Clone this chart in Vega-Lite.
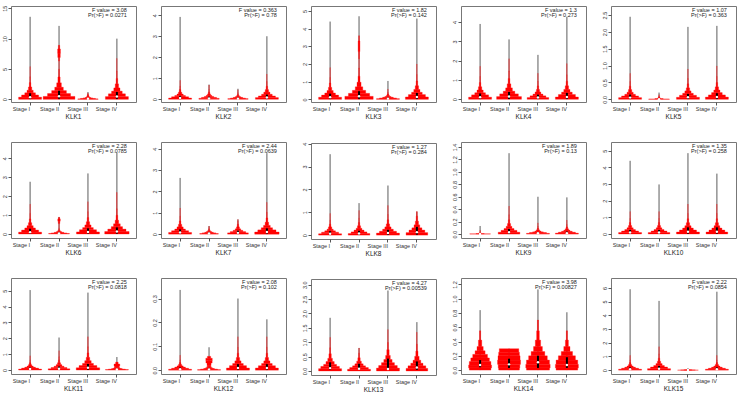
{
"$schema":"https://vega.github.io/schema/vega-lite/v6.json",
"padding":{"left":1,"top":4,"right":0,"bottom":0},
"data":{"values":[
{"g":"KLK1","lo":-0.44,"hi":15.38,"t":"F value = 3.08|Pr(>F) = 0.0271"},
{"g":"KLK2","lo":-0.13,"hi":4.44,"t":"F value = 0.363|Pr(>F) = 0.78"},
{"g":"KLK3","lo":-0.15,"hi":5.28,"t":"F value = 1.82|Pr(>F) = 0.142"},
{"g":"KLK4","lo":-0.14,"hi":4.83,"t":"F value = 1.3|Pr(>F) = 0.273"},
{"g":"KLK5","lo":-0.08,"hi":2.77,"t":"F value = 1.07|Pr(>F) = 0.363"},
{"g":"KLK6","lo":-0.21,"hi":4.86,"t":"F value = 2.28|Pr(>F) = 0.0785"},
{"g":"KLK7","lo":-0.18,"hi":4.31,"t":"F value = 2.44|Pr(>F) = 0.0639"},
{"g":"KLK8","lo":-0.17,"hi":4.03,"t":"F value = 1.27|Pr(>F) = 0.284"},
{"g":"KLK9","lo":-0.063,"hi":1.48,"t":"F value = 1.89|Pr(>F) = 0.13"},
{"g":"KLK10","lo":-0.24,"hi":5.53,"t":"F value = 1.35|Pr(>F) = 0.258"},
{"g":"KLK11","lo":-0.25,"hi":5.8,"t":"F value = 2.25|Pr(>F) = 0.0818"},
{"g":"KLK12","lo":-0.016,"hi":0.386,"t":"F value = 2.08|Pr(>F) = 0.102"},
{"g":"KLK13","lo":-0.14,"hi":3.2,"t":"F value = 4.27|Pr(>F) = 0.00539"},
{"g":"KLK14","lo":-0.055,"hi":1.29,"t":"F value = 3.98|Pr(>F) = 0.00827"},
{"g":"KLK15","lo":-0.28,"hi":6.72,"t":"F value = 2.22|Pr(>F) = 0.0854"},

{"g":"KLK1","s":"Stage I","mx":13.6,"q1":0.06,"q3":1.0,"m":0.35},
{"g":"KLK1","s":"Stage II","mx":12.1,"q1":0.1,"q3":1.4,"m":0.5},
{"g":"KLK1","s":"Stage III","mx":1.2,"q1":0.01,"q3":0.2,"m":0.08},
{"g":"KLK1","s":"Stage IV","mx":10.0,"q1":0.08,"q3":1.2,"m":0.45},
{"g":"KLK2","s":"Stage I","mx":3.92,"q1":0.01,"q3":0.16,"m":0.06},
{"g":"KLK2","s":"Stage II","mx":0.7,"q1":0.01,"q3":0.12,"m":0.04},
{"g":"KLK2","s":"Stage III","mx":0.5,"q1":0.005,"q3":0.08,"m":0.03},
{"g":"KLK2","s":"Stage IV","mx":3.0,"q1":0.015,"q3":0.22,"m":0.08},
{"g":"KLK3","s":"Stage I","mx":4.4,"q1":0.02,"q3":0.32,"m":0.12},
{"g":"KLK3","s":"Stage II","mx":4.7,"q1":0.03,"q3":0.46,"m":0.17},
{"g":"KLK3","s":"Stage III","mx":1.04,"q1":0.006,"q3":0.1,"m":0.04},
{"g":"KLK3","s":"Stage IV","mx":4.57,"q1":0.02,"q3":0.36,"m":0.13},
{"g":"KLK4","s":"Stage I","mx":3.9,"q1":0.02,"q3":0.3,"m":0.11},
{"g":"KLK4","s":"Stage II","mx":3.1,"q1":0.02,"q3":0.38,"m":0.14},
{"g":"KLK4","s":"Stage III","mx":2.3,"q1":0.015,"q3":0.24,"m":0.09},
{"g":"KLK4","s":"Stage IV","mx":4.26,"q1":0.02,"q3":0.33,"m":0.12},
{"g":"KLK5","s":"Stage I","mx":2.45,"q1":0.01,"q3":0.14,"m":0.05},
{"g":"KLK5","s":"Stage II","mx":0.2,"q1":0,"q3":0.02,"m":0.005},
{"g":"KLK5","s":"Stage III","mx":2.15,"q1":0.01,"q3":0.16,"m":0.06},
{"g":"KLK5","s":"Stage IV","mx":2.18,"q1":0.01,"q3":0.18,"m":0.07},
{"g":"KLK6","s":"Stage I","mx":2.76,"q1":0.02,"q3":0.28,"m":0.1},
{"g":"KLK6","s":"Stage II","mx":0.9,"q1":0.005,"q3":0.08,"m":0.03},
{"g":"KLK6","s":"Stage III","mx":3.2,"q1":0.02,"q3":0.3,"m":0.11},
{"g":"KLK6","s":"Stage IV","mx":4.28,"q1":0.02,"q3":0.35,"m":0.13},
{"g":"KLK7","s":"Stage I","mx":2.63,"q1":0.01,"q3":0.22,"m":0.08},
{"g":"KLK7","s":"Stage II","mx":0.38,"q1":0.005,"q3":0.08,"m":0.03},
{"g":"KLK7","s":"Stage III","mx":0.69,"q1":0.01,"q3":0.16,"m":0.06},
{"g":"KLK7","s":"Stage IV","mx":3.79,"q1":0.02,"q3":0.27,"m":0.1},
{"g":"KLK8","s":"Stage I","mx":3.54,"q1":0.01,"q3":0.17,"m":0.06},
{"g":"KLK8","s":"Stage II","mx":1.4,"q1":0.01,"q3":0.19,"m":0.07},
{"g":"KLK8","s":"Stage III","mx":2.17,"q1":0.015,"q3":0.23,"m":0.09},
{"g":"KLK8","s":"Stage IV","mx":1.03,"q1":0.02,"q3":0.36,"m":0.13},
{"g":"KLK9","s":"Stage I","mx":0.13,"q1":0,"q3":0.003,"m":0.001},
{"g":"KLK9","s":"Stage II","mx":1.3,"q1":0.005,"q3":0.08,"m":0.03},
{"g":"KLK9","s":"Stage III","mx":0.6,"q1":0.002,"q3":0.032,"m":0.012},
{"g":"KLK9","s":"Stage IV","mx":0.59,"q1":0.0025,"q3":0.04,"m":0.015},
{"g":"KLK10","s":"Stage I","mx":4.4,"q1":0.015,"q3":0.24,"m":0.09},
{"g":"KLK10","s":"Stage II","mx":2.98,"q1":0.015,"q3":0.24,"m":0.09},
{"g":"KLK10","s":"Stage III","mx":4.86,"q1":0.02,"q3":0.4,"m":0.14},
{"g":"KLK10","s":"Stage IV","mx":3.63,"q1":0.02,"q3":0.4,"m":0.14},
{"g":"KLK11","s":"Stage I","mx":5.04,"q1":0.01,"q3":0.16,"m":0.06},
{"g":"KLK11","s":"Stage II","mx":2.05,"q1":0.015,"q3":0.22,"m":0.08},
{"g":"KLK11","s":"Stage III","mx":4.88,"q1":0.02,"q3":0.38,"m":0.14},
{"g":"KLK11","s":"Stage IV","mx":0.82,"q1":0.005,"q3":0.08,"m":0.03},
{"g":"KLK12","s":"Stage I","mx":0.336,"q1":0.001,"q3":0.011,"m":0.004},
{"g":"KLK12","s":"Stage II","mx":0.096,"q1":0,"q3":0.007,"m":0.003},
{"g":"KLK12","s":"Stage III","mx":0.3,"q1":0.002,"q3":0.025,"m":0.009},
{"g":"KLK12","s":"Stage IV","mx":0.213,"q1":0.002,"q3":0.025,"m":0.009},
{"g":"KLK13","s":"Stage I","mx":1.85,"q1":0.05,"q3":0.3,"m":0.1},
{"g":"KLK13","s":"Stage II","mx":0.8,"q1":0.04,"q3":0.25,"m":0.08},
{"g":"KLK13","s":"Stage III","mx":2.8,"q1":0.04,"q3":0.43,"m":0.07},
{"g":"KLK13","s":"Stage IV","mx":1.7,"q1":0.04,"q3":0.33,"m":0.12},
{"g":"KLK14","s":"Stage I","mx":0.84,"q1":0.04,"q3":0.14,"m":0.07},
{"g":"KLK14","s":"Stage II","mx":0.3,"q1":0.03,"q3":0.16,"m":0.08},
{"g":"KLK14","s":"Stage III","mx":1.13,"q1":0.03,"q3":0.2,"m":0.11},
{"g":"KLK14","s":"Stage IV","mx":0.81,"q1":0.03,"q3":0.18,"m":0.07},
{"g":"KLK15","s":"Stage I","mx":5.9,"q1":0.01,"q3":0.2,"m":0.07},
{"g":"KLK15","s":"Stage II","mx":5.05,"q1":0.02,"q3":0.3,"m":0.11},
{"g":"KLK15","s":"Stage III","mx":0.15,"q1":0,"q3":0.02,"m":0.005},
{"g":"KLK15","s":"Stage IV","mx":5.72,"q1":0.01,"q3":0.2,"m":0.07},

{"g":"KLK1","s":"Stage I","a":0,"b":0.36,"d":1},{"g":"KLK1","s":"Stage I","a":0.36,"b":0.72,"d":0.86},{"g":"KLK1","s":"Stage I","a":0.72,"b":1.08,"d":0.68},{"g":"KLK1","s":"Stage I","a":1.08,"b":1.5,"d":0.52},{"g":"KLK1","s":"Stage I","a":1.5,"b":2.04,"d":0.38},{"g":"KLK1","s":"Stage I","a":2.04,"b":2.76,"d":0.26},{"g":"KLK1","s":"Stage I","a":2.76,"b":3.72,"d":0.16},{"g":"KLK1","s":"Stage I","a":3.72,"b":5.4,"d":0.08},
{"g":"KLK1","s":"Stage II","a":0,"b":0.48,"d":1.175},{"g":"KLK1","s":"Stage II","a":0.48,"b":0.96,"d":1.0},{"g":"KLK1","s":"Stage II","a":0.96,"b":1.44,"d":0.8},{"g":"KLK1","s":"Stage II","a":1.44,"b":2.0,"d":0.61},{"g":"KLK1","s":"Stage II","a":2.0,"b":2.72,"d":0.45},{"g":"KLK1","s":"Stage II","a":2.72,"b":3.68,"d":0.31},{"g":"KLK1","s":"Stage II","a":3.68,"b":4.96,"d":0.19},{"g":"KLK1","s":"Stage II","a":4.96,"b":6.3,"d":0.06},{"g":"KLK1","s":"Stage II","a":6.3,"b":6.9,"d":0.22},{"g":"KLK1","s":"Stage II","a":6.9,"b":7.6,"d":0.33},{"g":"KLK1","s":"Stage II","a":7.6,"b":8.3,"d":0.35},{"g":"KLK1","s":"Stage II","a":8.3,"b":8.9,"d":0.24},
{"g":"KLK1","s":"Stage III","a":0,"b":0.08,"d":0.94},{"g":"KLK1","s":"Stage III","a":0.08,"b":0.15,"d":0.81},{"g":"KLK1","s":"Stage III","a":0.15,"b":0.23,"d":0.64},{"g":"KLK1","s":"Stage III","a":0.23,"b":0.31,"d":0.49},{"g":"KLK1","s":"Stage III","a":0.31,"b":0.43,"d":0.36},{"g":"KLK1","s":"Stage III","a":0.43,"b":0.6,"d":0.3},{"g":"KLK1","s":"Stage III","a":0.6,"b":0.8,"d":0.22},{"g":"KLK1","s":"Stage III","a":0.8,"b":1.05,"d":0.1},
{"g":"KLK1","s":"Stage IV","a":0,"b":0.45,"d":1},{"g":"KLK1","s":"Stage IV","a":0.45,"b":0.9,"d":0.86},{"g":"KLK1","s":"Stage IV","a":0.9,"b":1.35,"d":0.68},{"g":"KLK1","s":"Stage IV","a":1.35,"b":1.88,"d":0.52},{"g":"KLK1","s":"Stage IV","a":1.88,"b":2.55,"d":0.38},{"g":"KLK1","s":"Stage IV","a":2.55,"b":3.45,"d":0.26},{"g":"KLK1","s":"Stage IV","a":3.45,"b":4.65,"d":0.16},{"g":"KLK1","s":"Stage IV","a":4.65,"b":6.75,"d":0.08},

{"g":"KLK2","s":"Stage I","a":0,"b":0.06,"d":1},{"g":"KLK2","s":"Stage I","a":0.06,"b":0.12,"d":0.86},{"g":"KLK2","s":"Stage I","a":0.12,"b":0.18,"d":0.68},{"g":"KLK2","s":"Stage I","a":0.18,"b":0.25,"d":0.52},{"g":"KLK2","s":"Stage I","a":0.25,"b":0.34,"d":0.38},{"g":"KLK2","s":"Stage I","a":0.34,"b":0.46,"d":0.26},{"g":"KLK2","s":"Stage I","a":0.46,"b":0.62,"d":0.16},{"g":"KLK2","s":"Stage I","a":0.62,"b":0.9,"d":0.08},
{"g":"KLK2","s":"Stage II","a":0,"b":0.045,"d":0.94},{"g":"KLK2","s":"Stage II","a":0.045,"b":0.09,"d":0.81},{"g":"KLK2","s":"Stage II","a":0.09,"b":0.135,"d":0.64},{"g":"KLK2","s":"Stage II","a":0.135,"b":0.19,"d":0.49},{"g":"KLK2","s":"Stage II","a":0.19,"b":0.255,"d":0.36},{"g":"KLK2","s":"Stage II","a":0.255,"b":0.345,"d":0.24},{"g":"KLK2","s":"Stage II","a":0.345,"b":0.465,"d":0.15},{"g":"KLK2","s":"Stage II","a":0.465,"b":0.68,"d":0.08},
{"g":"KLK2","s":"Stage III","a":0,"b":0.03,"d":0.94},{"g":"KLK2","s":"Stage III","a":0.03,"b":0.06,"d":0.81},{"g":"KLK2","s":"Stage III","a":0.06,"b":0.09,"d":0.64},{"g":"KLK2","s":"Stage III","a":0.09,"b":0.125,"d":0.49},{"g":"KLK2","s":"Stage III","a":0.125,"b":0.17,"d":0.36},{"g":"KLK2","s":"Stage III","a":0.17,"b":0.23,"d":0.24},{"g":"KLK2","s":"Stage III","a":0.23,"b":0.31,"d":0.15},{"g":"KLK2","s":"Stage III","a":0.31,"b":0.45,"d":0.08},
{"g":"KLK2","s":"Stage IV","a":0,"b":0.08,"d":1},{"g":"KLK2","s":"Stage IV","a":0.08,"b":0.16,"d":0.86},{"g":"KLK2","s":"Stage IV","a":0.16,"b":0.24,"d":0.68},{"g":"KLK2","s":"Stage IV","a":0.24,"b":0.34,"d":0.52},{"g":"KLK2","s":"Stage IV","a":0.34,"b":0.46,"d":0.38},{"g":"KLK2","s":"Stage IV","a":0.46,"b":0.62,"d":0.26},{"g":"KLK2","s":"Stage IV","a":0.62,"b":0.84,"d":0.16},{"g":"KLK2","s":"Stage IV","a":0.84,"b":1.2,"d":0.08},

{"g":"KLK3","s":"Stage I","a":0,"b":0.12,"d":1},{"g":"KLK3","s":"Stage I","a":0.12,"b":0.24,"d":0.86},{"g":"KLK3","s":"Stage I","a":0.24,"b":0.36,"d":0.68},{"g":"KLK3","s":"Stage I","a":0.36,"b":0.5,"d":0.52},{"g":"KLK3","s":"Stage I","a":0.5,"b":0.68,"d":0.38},{"g":"KLK3","s":"Stage I","a":0.68,"b":0.92,"d":0.26},{"g":"KLK3","s":"Stage I","a":0.92,"b":1.24,"d":0.16},{"g":"KLK3","s":"Stage I","a":1.24,"b":1.8,"d":0.08},
{"g":"KLK3","s":"Stage II","a":0,"b":0.17,"d":1.11},{"g":"KLK3","s":"Stage II","a":0.17,"b":0.34,"d":0.96},{"g":"KLK3","s":"Stage II","a":0.34,"b":0.51,"d":0.76},{"g":"KLK3","s":"Stage II","a":0.51,"b":0.71,"d":0.57},{"g":"KLK3","s":"Stage II","a":0.71,"b":0.97,"d":0.42},{"g":"KLK3","s":"Stage II","a":0.97,"b":1.31,"d":0.29},{"g":"KLK3","s":"Stage II","a":1.31,"b":1.77,"d":0.18},{"g":"KLK3","s":"Stage II","a":1.77,"b":2.3,"d":0.08},{"g":"KLK3","s":"Stage II","a":2.3,"b":2.7,"d":0.2},{"g":"KLK3","s":"Stage II","a":2.7,"b":3.3,"d":0.28},{"g":"KLK3","s":"Stage II","a":3.3,"b":3.6,"d":0.18},
{"g":"KLK3","s":"Stage III","a":0,"b":0.04,"d":1},{"g":"KLK3","s":"Stage III","a":0.04,"b":0.08,"d":0.86},{"g":"KLK3","s":"Stage III","a":0.08,"b":0.12,"d":0.68},{"g":"KLK3","s":"Stage III","a":0.12,"b":0.16,"d":0.52},{"g":"KLK3","s":"Stage III","a":0.16,"b":0.22,"d":0.38},{"g":"KLK3","s":"Stage III","a":0.22,"b":0.3,"d":0.26},{"g":"KLK3","s":"Stage III","a":0.3,"b":0.4,"d":0.16},{"g":"KLK3","s":"Stage III","a":0.4,"b":0.58,"d":0.08},
{"g":"KLK3","s":"Stage IV","a":0,"b":0.135,"d":1},{"g":"KLK3","s":"Stage IV","a":0.135,"b":0.27,"d":0.86},{"g":"KLK3","s":"Stage IV","a":0.27,"b":0.4,"d":0.68},{"g":"KLK3","s":"Stage IV","a":0.4,"b":0.56,"d":0.52},{"g":"KLK3","s":"Stage IV","a":0.56,"b":0.77,"d":0.38},{"g":"KLK3","s":"Stage IV","a":0.77,"b":1.04,"d":0.26},{"g":"KLK3","s":"Stage IV","a":1.04,"b":1.4,"d":0.16},{"g":"KLK3","s":"Stage IV","a":1.4,"b":2.0,"d":0.08},

{"g":"KLK4","s":"Stage I","a":0,"b":0.11,"d":1},{"g":"KLK4","s":"Stage I","a":0.11,"b":0.23,"d":0.86},{"g":"KLK4","s":"Stage I","a":0.23,"b":0.34,"d":0.68},{"g":"KLK4","s":"Stage I","a":0.34,"b":0.48,"d":0.52},{"g":"KLK4","s":"Stage I","a":0.48,"b":0.65,"d":0.38},{"g":"KLK4","s":"Stage I","a":0.65,"b":0.87,"d":0.26},{"g":"KLK4","s":"Stage I","a":0.87,"b":1.18,"d":0.16},{"g":"KLK4","s":"Stage I","a":1.18,"b":1.71,"d":0.08},
{"g":"KLK4","s":"Stage II","a":0,"b":0.14,"d":1.04},{"g":"KLK4","s":"Stage II","a":0.14,"b":0.28,"d":0.9},{"g":"KLK4","s":"Stage II","a":0.28,"b":0.42,"d":0.71},{"g":"KLK4","s":"Stage II","a":0.42,"b":0.59,"d":0.54},{"g":"KLK4","s":"Stage II","a":0.59,"b":0.8,"d":0.4},{"g":"KLK4","s":"Stage II","a":0.8,"b":1.08,"d":0.27},{"g":"KLK4","s":"Stage II","a":1.08,"b":1.46,"d":0.17},{"g":"KLK4","s":"Stage II","a":1.46,"b":2.1,"d":0.09},
{"g":"KLK4","s":"Stage III","a":0,"b":0.09,"d":0.97},{"g":"KLK4","s":"Stage III","a":0.09,"b":0.18,"d":0.83},{"g":"KLK4","s":"Stage III","a":0.18,"b":0.27,"d":0.66},{"g":"KLK4","s":"Stage III","a":0.27,"b":0.38,"d":0.5},{"g":"KLK4","s":"Stage III","a":0.38,"b":0.51,"d":0.37},{"g":"KLK4","s":"Stage III","a":0.51,"b":0.69,"d":0.25},{"g":"KLK4","s":"Stage III","a":0.69,"b":0.93,"d":0.16},{"g":"KLK4","s":"Stage III","a":0.93,"b":1.35,"d":0.08},
{"g":"KLK4","s":"Stage IV","a":0,"b":0.12,"d":1},{"g":"KLK4","s":"Stage IV","a":0.12,"b":0.25,"d":0.86},{"g":"KLK4","s":"Stage IV","a":0.25,"b":0.37,"d":0.68},{"g":"KLK4","s":"Stage IV","a":0.37,"b":0.51,"d":0.52},{"g":"KLK4","s":"Stage IV","a":0.51,"b":0.7,"d":0.38},{"g":"KLK4","s":"Stage IV","a":0.7,"b":0.94,"d":0.26},{"g":"KLK4","s":"Stage IV","a":0.94,"b":1.27,"d":0.16},{"g":"KLK4","s":"Stage IV","a":1.27,"b":1.85,"d":0.08},

{"g":"KLK5","s":"Stage I","a":0,"b":0.05,"d":1},{"g":"KLK5","s":"Stage I","a":0.05,"b":0.1,"d":0.86},{"g":"KLK5","s":"Stage I","a":0.1,"b":0.15,"d":0.68},{"g":"KLK5","s":"Stage I","a":0.15,"b":0.21,"d":0.52},{"g":"KLK5","s":"Stage I","a":0.21,"b":0.29,"d":0.38},{"g":"KLK5","s":"Stage I","a":0.29,"b":0.39,"d":0.26},{"g":"KLK5","s":"Stage I","a":0.39,"b":0.53,"d":0.16},{"g":"KLK5","s":"Stage I","a":0.53,"b":0.77,"d":0.08},
{"g":"KLK5","s":"Stage II","a":0,"b":0.01,"d":0.95},{"g":"KLK5","s":"Stage II","a":0.01,"b":0.02,"d":0.6},{"g":"KLK5","s":"Stage II","a":0.02,"b":0.04,"d":0.35},{"g":"KLK5","s":"Stage II","a":0.04,"b":0.07,"d":0.25},{"g":"KLK5","s":"Stage II","a":0.07,"b":0.1,"d":0.15},{"g":"KLK5","s":"Stage II","a":0.1,"b":0.14,"d":0.08},
{"g":"KLK5","s":"Stage III","a":0,"b":0.06,"d":1},{"g":"KLK5","s":"Stage III","a":0.06,"b":0.12,"d":0.86},{"g":"KLK5","s":"Stage III","a":0.12,"b":0.18,"d":0.68},{"g":"KLK5","s":"Stage III","a":0.18,"b":0.25,"d":0.52},{"g":"KLK5","s":"Stage III","a":0.25,"b":0.34,"d":0.38},{"g":"KLK5","s":"Stage III","a":0.34,"b":0.46,"d":0.26},{"g":"KLK5","s":"Stage III","a":0.46,"b":0.62,"d":0.16},{"g":"KLK5","s":"Stage III","a":0.62,"b":0.9,"d":0.08},
{"g":"KLK5","s":"Stage IV","a":0,"b":0.066,"d":1},{"g":"KLK5","s":"Stage IV","a":0.066,"b":0.13,"d":0.86},{"g":"KLK5","s":"Stage IV","a":0.13,"b":0.2,"d":0.68},{"g":"KLK5","s":"Stage IV","a":0.2,"b":0.275,"d":0.52},{"g":"KLK5","s":"Stage IV","a":0.275,"b":0.37,"d":0.38},{"g":"KLK5","s":"Stage IV","a":0.37,"b":0.5,"d":0.26},{"g":"KLK5","s":"Stage IV","a":0.5,"b":0.68,"d":0.16},{"g":"KLK5","s":"Stage IV","a":0.68,"b":0.99,"d":0.08},

{"g":"KLK6","s":"Stage I","a":0,"b":0.1,"d":1},{"g":"KLK6","s":"Stage I","a":0.1,"b":0.21,"d":0.86},{"g":"KLK6","s":"Stage I","a":0.21,"b":0.32,"d":0.68},{"g":"KLK6","s":"Stage I","a":0.32,"b":0.44,"d":0.52},{"g":"KLK6","s":"Stage I","a":0.44,"b":0.6,"d":0.38},{"g":"KLK6","s":"Stage I","a":0.6,"b":0.8,"d":0.26},{"g":"KLK6","s":"Stage I","a":0.8,"b":1.09,"d":0.16},{"g":"KLK6","s":"Stage I","a":1.09,"b":1.58,"d":0.08},
{"g":"KLK6","s":"Stage II","a":0,"b":0.03,"d":0.95},{"g":"KLK6","s":"Stage II","a":0.03,"b":0.06,"d":0.82},{"g":"KLK6","s":"Stage II","a":0.06,"b":0.09,"d":0.65},{"g":"KLK6","s":"Stage II","a":0.09,"b":0.125,"d":0.49},{"g":"KLK6","s":"Stage II","a":0.125,"b":0.17,"d":0.36},{"g":"KLK6","s":"Stage II","a":0.17,"b":0.23,"d":0.25},{"g":"KLK6","s":"Stage II","a":0.23,"b":0.31,"d":0.15},{"g":"KLK6","s":"Stage II","a":0.31,"b":0.55,"d":0.08},{"g":"KLK6","s":"Stage II","a":0.55,"b":0.68,"d":0.26},{"g":"KLK6","s":"Stage II","a":0.68,"b":0.8,"d":0.33},{"g":"KLK6","s":"Stage II","a":0.8,"b":0.88,"d":0.22},
{"g":"KLK6","s":"Stage III","a":0,"b":0.11,"d":1},{"g":"KLK6","s":"Stage III","a":0.11,"b":0.23,"d":0.86},{"g":"KLK6","s":"Stage III","a":0.23,"b":0.34,"d":0.68},{"g":"KLK6","s":"Stage III","a":0.34,"b":0.48,"d":0.52},{"g":"KLK6","s":"Stage III","a":0.48,"b":0.65,"d":0.38},{"g":"KLK6","s":"Stage III","a":0.65,"b":0.87,"d":0.26},{"g":"KLK6","s":"Stage III","a":0.87,"b":1.18,"d":0.16},{"g":"KLK6","s":"Stage III","a":1.18,"b":1.71,"d":0.08},
{"g":"KLK6","s":"Stage IV","a":0,"b":0.13,"d":1.03},{"g":"KLK6","s":"Stage IV","a":0.13,"b":0.26,"d":0.89},{"g":"KLK6","s":"Stage IV","a":0.26,"b":0.39,"d":0.7},{"g":"KLK6","s":"Stage IV","a":0.39,"b":0.54,"d":0.54},{"g":"KLK6","s":"Stage IV","a":0.54,"b":0.73,"d":0.39},{"g":"KLK6","s":"Stage IV","a":0.73,"b":0.99,"d":0.27},{"g":"KLK6","s":"Stage IV","a":0.99,"b":1.33,"d":0.17},{"g":"KLK6","s":"Stage IV","a":1.33,"b":2.2,"d":0.1},

{"g":"KLK7","s":"Stage I","a":0,"b":0.08,"d":1},{"g":"KLK7","s":"Stage I","a":0.08,"b":0.16,"d":0.86},{"g":"KLK7","s":"Stage I","a":0.16,"b":0.24,"d":0.68},{"g":"KLK7","s":"Stage I","a":0.24,"b":0.34,"d":0.52},{"g":"KLK7","s":"Stage I","a":0.34,"b":0.46,"d":0.38},{"g":"KLK7","s":"Stage I","a":0.46,"b":0.62,"d":0.26},{"g":"KLK7","s":"Stage I","a":0.62,"b":0.84,"d":0.16},{"g":"KLK7","s":"Stage I","a":0.84,"b":1.22,"d":0.08},
{"g":"KLK7","s":"Stage II","a":0,"b":0.03,"d":0.9},{"g":"KLK7","s":"Stage II","a":0.03,"b":0.06,"d":0.77},{"g":"KLK7","s":"Stage II","a":0.06,"b":0.09,"d":0.61},{"g":"KLK7","s":"Stage II","a":0.09,"b":0.125,"d":0.47},{"g":"KLK7","s":"Stage II","a":0.125,"b":0.17,"d":0.34},{"g":"KLK7","s":"Stage II","a":0.17,"b":0.23,"d":0.23},{"g":"KLK7","s":"Stage II","a":0.23,"b":0.3,"d":0.14},{"g":"KLK7","s":"Stage II","a":0.3,"b":0.38,"d":0.07},
{"g":"KLK7","s":"Stage III","a":0,"b":0.06,"d":0.95},{"g":"KLK7","s":"Stage III","a":0.06,"b":0.12,"d":0.82},{"g":"KLK7","s":"Stage III","a":0.12,"b":0.18,"d":0.65},{"g":"KLK7","s":"Stage III","a":0.18,"b":0.25,"d":0.49},{"g":"KLK7","s":"Stage III","a":0.25,"b":0.34,"d":0.36},{"g":"KLK7","s":"Stage III","a":0.34,"b":0.46,"d":0.25},{"g":"KLK7","s":"Stage III","a":0.46,"b":0.6,"d":0.15},{"g":"KLK7","s":"Stage III","a":0.6,"b":0.69,"d":0.08},
{"g":"KLK7","s":"Stage IV","a":0,"b":0.1,"d":1.03},{"g":"KLK7","s":"Stage IV","a":0.1,"b":0.2,"d":0.89},{"g":"KLK7","s":"Stage IV","a":0.2,"b":0.3,"d":0.7},{"g":"KLK7","s":"Stage IV","a":0.3,"b":0.41,"d":0.54},{"g":"KLK7","s":"Stage IV","a":0.41,"b":0.56,"d":0.39},{"g":"KLK7","s":"Stage IV","a":0.56,"b":0.76,"d":0.27},{"g":"KLK7","s":"Stage IV","a":0.76,"b":1.02,"d":0.17},{"g":"KLK7","s":"Stage IV","a":1.02,"b":1.49,"d":0.08},

{"g":"KLK8","s":"Stage I","a":0,"b":0.06,"d":1},{"g":"KLK8","s":"Stage I","a":0.06,"b":0.13,"d":0.86},{"g":"KLK8","s":"Stage I","a":0.13,"b":0.19,"d":0.68},{"g":"KLK8","s":"Stage I","a":0.19,"b":0.26,"d":0.52},{"g":"KLK8","s":"Stage I","a":0.26,"b":0.36,"d":0.38},{"g":"KLK8","s":"Stage I","a":0.36,"b":0.48,"d":0.26},{"g":"KLK8","s":"Stage I","a":0.48,"b":0.65,"d":0.16},{"g":"KLK8","s":"Stage I","a":0.65,"b":0.95,"d":0.08},
{"g":"KLK8","s":"Stage II","a":0,"b":0.07,"d":0.97},{"g":"KLK8","s":"Stage II","a":0.07,"b":0.14,"d":0.83},{"g":"KLK8","s":"Stage II","a":0.14,"b":0.22,"d":0.66},{"g":"KLK8","s":"Stage II","a":0.22,"b":0.3,"d":0.5},{"g":"KLK8","s":"Stage II","a":0.3,"b":0.41,"d":0.37},{"g":"KLK8","s":"Stage II","a":0.41,"b":0.55,"d":0.25},{"g":"KLK8","s":"Stage II","a":0.55,"b":0.74,"d":0.16},{"g":"KLK8","s":"Stage II","a":0.74,"b":1.08,"d":0.08},
{"g":"KLK8","s":"Stage III","a":0,"b":0.09,"d":1},{"g":"KLK8","s":"Stage III","a":0.09,"b":0.17,"d":0.86},{"g":"KLK8","s":"Stage III","a":0.17,"b":0.26,"d":0.68},{"g":"KLK8","s":"Stage III","a":0.26,"b":0.36,"d":0.52},{"g":"KLK8","s":"Stage III","a":0.36,"b":0.49,"d":0.38},{"g":"KLK8","s":"Stage III","a":0.49,"b":0.67,"d":0.26},{"g":"KLK8","s":"Stage III","a":0.67,"b":0.9,"d":0.16},{"g":"KLK8","s":"Stage III","a":0.9,"b":1.3,"d":0.08},
{"g":"KLK8","s":"Stage IV","a":0,"b":0.11,"d":0.97},{"g":"KLK8","s":"Stage IV","a":0.11,"b":0.22,"d":0.83},{"g":"KLK8","s":"Stage IV","a":0.22,"b":0.32,"d":0.66},{"g":"KLK8","s":"Stage IV","a":0.32,"b":0.45,"d":0.5},{"g":"KLK8","s":"Stage IV","a":0.45,"b":0.61,"d":0.37},{"g":"KLK8","s":"Stage IV","a":0.61,"b":0.83,"d":0.25},{"g":"KLK8","s":"Stage IV","a":0.83,"b":1.03,"d":0.16},

{"g":"KLK9","s":"Stage I","a":0,"b":0.004,"d":0.95},{"g":"KLK9","s":"Stage I","a":0.004,"b":0.008,"d":0.6},{"g":"KLK9","s":"Stage I","a":0.008,"b":0.015,"d":0.35},{"g":"KLK9","s":"Stage I","a":0.015,"b":0.03,"d":0.2},{"g":"KLK9","s":"Stage I","a":0.03,"b":0.06,"d":0.1},
{"g":"KLK9","s":"Stage II","a":0,"b":0.03,"d":0.97},{"g":"KLK9","s":"Stage II","a":0.03,"b":0.06,"d":0.83},{"g":"KLK9","s":"Stage II","a":0.06,"b":0.09,"d":0.66},{"g":"KLK9","s":"Stage II","a":0.09,"b":0.125,"d":0.5},{"g":"KLK9","s":"Stage II","a":0.125,"b":0.17,"d":0.37},{"g":"KLK9","s":"Stage II","a":0.17,"b":0.23,"d":0.25},{"g":"KLK9","s":"Stage II","a":0.23,"b":0.31,"d":0.16},{"g":"KLK9","s":"Stage II","a":0.31,"b":0.45,"d":0.08},
{"g":"KLK9","s":"Stage III","a":0,"b":0.012,"d":1},{"g":"KLK9","s":"Stage III","a":0.012,"b":0.024,"d":0.86},{"g":"KLK9","s":"Stage III","a":0.024,"b":0.036,"d":0.68},{"g":"KLK9","s":"Stage III","a":0.036,"b":0.05,"d":0.52},{"g":"KLK9","s":"Stage III","a":0.05,"b":0.068,"d":0.38},{"g":"KLK9","s":"Stage III","a":0.068,"b":0.092,"d":0.26},{"g":"KLK9","s":"Stage III","a":0.092,"b":0.124,"d":0.16},{"g":"KLK9","s":"Stage III","a":0.124,"b":0.18,"d":0.08},
{"g":"KLK9","s":"Stage IV","a":0,"b":0.015,"d":1},{"g":"KLK9","s":"Stage IV","a":0.015,"b":0.03,"d":0.86},{"g":"KLK9","s":"Stage IV","a":0.03,"b":0.045,"d":0.68},{"g":"KLK9","s":"Stage IV","a":0.045,"b":0.063,"d":0.52},{"g":"KLK9","s":"Stage IV","a":0.063,"b":0.085,"d":0.38},{"g":"KLK9","s":"Stage IV","a":0.085,"b":0.115,"d":0.26},{"g":"KLK9","s":"Stage IV","a":0.115,"b":0.155,"d":0.16},{"g":"KLK9","s":"Stage IV","a":0.155,"b":0.225,"d":0.08},

{"g":"KLK10","s":"Stage I","a":0,"b":0.09,"d":1},{"g":"KLK10","s":"Stage I","a":0.09,"b":0.18,"d":0.86},{"g":"KLK10","s":"Stage I","a":0.18,"b":0.27,"d":0.68},{"g":"KLK10","s":"Stage I","a":0.27,"b":0.375,"d":0.52},{"g":"KLK10","s":"Stage I","a":0.375,"b":0.51,"d":0.38},{"g":"KLK10","s":"Stage I","a":0.51,"b":0.69,"d":0.26},{"g":"KLK10","s":"Stage I","a":0.69,"b":0.93,"d":0.16},{"g":"KLK10","s":"Stage I","a":0.93,"b":1.35,"d":0.08},
{"g":"KLK10","s":"Stage II","a":0,"b":0.09,"d":0.97},{"g":"KLK10","s":"Stage II","a":0.09,"b":0.18,"d":0.83},{"g":"KLK10","s":"Stage II","a":0.18,"b":0.27,"d":0.66},{"g":"KLK10","s":"Stage II","a":0.27,"b":0.375,"d":0.5},{"g":"KLK10","s":"Stage II","a":0.375,"b":0.51,"d":0.37},{"g":"KLK10","s":"Stage II","a":0.51,"b":0.69,"d":0.25},{"g":"KLK10","s":"Stage II","a":0.69,"b":0.93,"d":0.16},{"g":"KLK10","s":"Stage II","a":0.93,"b":1.35,"d":0.08},
{"g":"KLK10","s":"Stage III","a":0,"b":0.12,"d":1},{"g":"KLK10","s":"Stage III","a":0.12,"b":0.24,"d":0.86},{"g":"KLK10","s":"Stage III","a":0.24,"b":0.36,"d":0.68},{"g":"KLK10","s":"Stage III","a":0.36,"b":0.5,"d":0.52},{"g":"KLK10","s":"Stage III","a":0.5,"b":0.68,"d":0.38},{"g":"KLK10","s":"Stage III","a":0.68,"b":0.92,"d":0.26},{"g":"KLK10","s":"Stage III","a":0.92,"b":1.24,"d":0.16},{"g":"KLK10","s":"Stage III","a":1.24,"b":1.8,"d":0.08},
{"g":"KLK10","s":"Stage IV","a":0,"b":0.12,"d":0.97},{"g":"KLK10","s":"Stage IV","a":0.12,"b":0.24,"d":0.83},{"g":"KLK10","s":"Stage IV","a":0.24,"b":0.36,"d":0.66},{"g":"KLK10","s":"Stage IV","a":0.36,"b":0.5,"d":0.5},{"g":"KLK10","s":"Stage IV","a":0.5,"b":0.68,"d":0.37},{"g":"KLK10","s":"Stage IV","a":0.68,"b":0.92,"d":0.25},{"g":"KLK10","s":"Stage IV","a":0.92,"b":1.24,"d":0.16},{"g":"KLK10","s":"Stage IV","a":1.24,"b":1.8,"d":0.08},

{"g":"KLK11","s":"Stage I","a":0,"b":0.06,"d":1},{"g":"KLK11","s":"Stage I","a":0.06,"b":0.12,"d":0.86},{"g":"KLK11","s":"Stage I","a":0.12,"b":0.18,"d":0.68},{"g":"KLK11","s":"Stage I","a":0.18,"b":0.25,"d":0.52},{"g":"KLK11","s":"Stage I","a":0.25,"b":0.34,"d":0.38},{"g":"KLK11","s":"Stage I","a":0.34,"b":0.46,"d":0.26},{"g":"KLK11","s":"Stage I","a":0.46,"b":0.62,"d":0.16},{"g":"KLK11","s":"Stage I","a":0.62,"b":0.9,"d":0.08},
{"g":"KLK11","s":"Stage II","a":0,"b":0.08,"d":0.97},{"g":"KLK11","s":"Stage II","a":0.08,"b":0.16,"d":0.83},{"g":"KLK11","s":"Stage II","a":0.16,"b":0.24,"d":0.66},{"g":"KLK11","s":"Stage II","a":0.24,"b":0.34,"d":0.5},{"g":"KLK11","s":"Stage II","a":0.34,"b":0.46,"d":0.37},{"g":"KLK11","s":"Stage II","a":0.46,"b":0.62,"d":0.25},{"g":"KLK11","s":"Stage II","a":0.62,"b":0.84,"d":0.16},{"g":"KLK11","s":"Stage II","a":0.84,"b":1.22,"d":0.08},
{"g":"KLK11","s":"Stage III","a":0,"b":0.14,"d":1.01},{"g":"KLK11","s":"Stage III","a":0.14,"b":0.28,"d":0.88},{"g":"KLK11","s":"Stage III","a":0.28,"b":0.42,"d":0.69},{"g":"KLK11","s":"Stage III","a":0.42,"b":0.59,"d":0.53},{"g":"KLK11","s":"Stage III","a":0.59,"b":0.8,"d":0.39},{"g":"KLK11","s":"Stage III","a":0.8,"b":1.08,"d":0.27},{"g":"KLK11","s":"Stage III","a":1.08,"b":1.46,"d":0.17},{"g":"KLK11","s":"Stage III","a":1.46,"b":2.1,"d":0.1},
{"g":"KLK11","s":"Stage IV","a":0,"b":0.03,"d":1},{"g":"KLK11","s":"Stage IV","a":0.03,"b":0.06,"d":0.86},{"g":"KLK11","s":"Stage IV","a":0.06,"b":0.09,"d":0.68},{"g":"KLK11","s":"Stage IV","a":0.09,"b":0.125,"d":0.55},{"g":"KLK11","s":"Stage IV","a":0.125,"b":0.17,"d":0.47},{"g":"KLK11","s":"Stage IV","a":0.17,"b":0.25,"d":0.45},{"g":"KLK11","s":"Stage IV","a":0.25,"b":0.38,"d":0.5},{"g":"KLK11","s":"Stage IV","a":0.38,"b":0.5,"d":0.33},

{"g":"KLK12","s":"Stage I","a":0,"b":0.004,"d":1},{"g":"KLK12","s":"Stage I","a":0.004,"b":0.008,"d":0.86},{"g":"KLK12","s":"Stage I","a":0.008,"b":0.013,"d":0.68},{"g":"KLK12","s":"Stage I","a":0.013,"b":0.018,"d":0.52},{"g":"KLK12","s":"Stage I","a":0.018,"b":0.024,"d":0.38},{"g":"KLK12","s":"Stage I","a":0.024,"b":0.032,"d":0.26},{"g":"KLK12","s":"Stage I","a":0.032,"b":0.043,"d":0.16},{"g":"KLK12","s":"Stage I","a":0.043,"b":0.063,"d":0.08},
{"g":"KLK12","s":"Stage II","a":0,"b":0.0024,"d":1},{"g":"KLK12","s":"Stage II","a":0.0024,"b":0.0048,"d":0.86},{"g":"KLK12","s":"Stage II","a":0.0048,"b":0.0072,"d":0.68},{"g":"KLK12","s":"Stage II","a":0.0072,"b":0.01,"d":0.55},{"g":"KLK12","s":"Stage II","a":0.01,"b":0.014,"d":0.45},{"g":"KLK12","s":"Stage II","a":0.014,"b":0.02,"d":0.4},{"g":"KLK12","s":"Stage II","a":0.02,"b":0.03,"d":0.42},{"g":"KLK12","s":"Stage II","a":0.03,"b":0.04,"d":0.52},{"g":"KLK12","s":"Stage II","a":0.04,"b":0.05,"d":0.53},{"g":"KLK12","s":"Stage II","a":0.05,"b":0.058,"d":0.38},
{"g":"KLK12","s":"Stage III","a":0,"b":0.009,"d":1},{"g":"KLK12","s":"Stage III","a":0.009,"b":0.019,"d":0.86},{"g":"KLK12","s":"Stage III","a":0.019,"b":0.028,"d":0.68},{"g":"KLK12","s":"Stage III","a":0.028,"b":0.039,"d":0.52},{"g":"KLK12","s":"Stage III","a":0.039,"b":0.053,"d":0.38},{"g":"KLK12","s":"Stage III","a":0.053,"b":0.071,"d":0.26},{"g":"KLK12","s":"Stage III","a":0.071,"b":0.096,"d":0.16},{"g":"KLK12","s":"Stage III","a":0.096,"b":0.14,"d":0.08},
{"g":"KLK12","s":"Stage IV","a":0,"b":0.009,"d":1},{"g":"KLK12","s":"Stage IV","a":0.009,"b":0.019,"d":0.86},{"g":"KLK12","s":"Stage IV","a":0.019,"b":0.028,"d":0.68},{"g":"KLK12","s":"Stage IV","a":0.028,"b":0.039,"d":0.52},{"g":"KLK12","s":"Stage IV","a":0.039,"b":0.053,"d":0.38},{"g":"KLK12","s":"Stage IV","a":0.053,"b":0.071,"d":0.26},{"g":"KLK12","s":"Stage IV","a":0.071,"b":0.096,"d":0.16},{"g":"KLK12","s":"Stage IV","a":0.096,"b":0.14,"d":0.08},

{"g":"KLK13","s":"Stage I","a":0,"b":0.08,"d":1},{"g":"KLK13","s":"Stage I","a":0.08,"b":0.16,"d":0.9},{"g":"KLK13","s":"Stage I","a":0.16,"b":0.23,"d":0.75},{"g":"KLK13","s":"Stage I","a":0.23,"b":0.33,"d":0.6},{"g":"KLK13","s":"Stage I","a":0.33,"b":0.44,"d":0.45},{"g":"KLK13","s":"Stage I","a":0.44,"b":0.6,"d":0.32},{"g":"KLK13","s":"Stage I","a":0.6,"b":0.81,"d":0.2},{"g":"KLK13","s":"Stage I","a":0.81,"b":1.17,"d":0.1},
{"g":"KLK13","s":"Stage II","a":0,"b":0.06,"d":1},{"g":"KLK13","s":"Stage II","a":0.06,"b":0.12,"d":0.9},{"g":"KLK13","s":"Stage II","a":0.12,"b":0.18,"d":0.75},{"g":"KLK13","s":"Stage II","a":0.18,"b":0.25,"d":0.6},{"g":"KLK13","s":"Stage II","a":0.25,"b":0.34,"d":0.45},{"g":"KLK13","s":"Stage II","a":0.34,"b":0.46,"d":0.32},{"g":"KLK13","s":"Stage II","a":0.46,"b":0.62,"d":0.2},{"g":"KLK13","s":"Stage II","a":0.62,"b":0.8,"d":0.1},
{"g":"KLK13","s":"Stage III","a":0,"b":0.1,"d":1},{"g":"KLK13","s":"Stage III","a":0.1,"b":0.19,"d":0.9},{"g":"KLK13","s":"Stage III","a":0.19,"b":0.29,"d":0.75},{"g":"KLK13","s":"Stage III","a":0.29,"b":0.4,"d":0.6},{"g":"KLK13","s":"Stage III","a":0.4,"b":0.54,"d":0.45},{"g":"KLK13","s":"Stage III","a":0.54,"b":0.74,"d":0.32},{"g":"KLK13","s":"Stage III","a":0.74,"b":0.99,"d":0.2},{"g":"KLK13","s":"Stage III","a":0.99,"b":1.44,"d":0.1},
{"g":"KLK13","s":"Stage IV","a":0,"b":0.09,"d":0.97},{"g":"KLK13","s":"Stage IV","a":0.09,"b":0.18,"d":0.88},{"g":"KLK13","s":"Stage IV","a":0.18,"b":0.27,"d":0.73},{"g":"KLK13","s":"Stage IV","a":0.27,"b":0.375,"d":0.58},{"g":"KLK13","s":"Stage IV","a":0.375,"b":0.51,"d":0.44},{"g":"KLK13","s":"Stage IV","a":0.51,"b":0.69,"d":0.31},{"g":"KLK13","s":"Stage IV","a":0.69,"b":0.93,"d":0.2},{"g":"KLK13","s":"Stage IV","a":0.93,"b":1.35,"d":0.1},

{"g":"KLK14","s":"Stage I","a":0,"b":0.03,"d":0.97},{"g":"KLK14","s":"Stage I","a":0.03,"b":0.07,"d":1},{"g":"KLK14","s":"Stage I","a":0.07,"b":0.12,"d":0.97},{"g":"KLK14","s":"Stage I","a":0.12,"b":0.17,"d":0.9},{"g":"KLK14","s":"Stage I","a":0.17,"b":0.22,"d":0.8},{"g":"KLK14","s":"Stage I","a":0.22,"b":0.27,"d":0.66},{"g":"KLK14","s":"Stage I","a":0.27,"b":0.33,"d":0.52},{"g":"KLK14","s":"Stage I","a":0.33,"b":0.42,"d":0.38},{"g":"KLK14","s":"Stage I","a":0.42,"b":0.55,"d":0.22},
{"g":"KLK14","s":"Stage II","a":0,"b":0.03,"d":0.95},{"g":"KLK14","s":"Stage II","a":0.03,"b":0.08,"d":0.97},{"g":"KLK14","s":"Stage II","a":0.08,"b":0.14,"d":1},{"g":"KLK14","s":"Stage II","a":0.14,"b":0.2,"d":0.98},{"g":"KLK14","s":"Stage II","a":0.2,"b":0.25,"d":0.95},{"g":"KLK14","s":"Stage II","a":0.25,"b":0.3,"d":0.92},
{"g":"KLK14","s":"Stage III","a":0,"b":0.03,"d":1},{"g":"KLK14","s":"Stage III","a":0.03,"b":0.08,"d":1.03},{"g":"KLK14","s":"Stage III","a":0.08,"b":0.14,"d":1},{"g":"KLK14","s":"Stage III","a":0.14,"b":0.2,"d":0.9},{"g":"KLK14","s":"Stage III","a":0.2,"b":0.26,"d":0.77},{"g":"KLK14","s":"Stage III","a":0.26,"b":0.33,"d":0.62},{"g":"KLK14","s":"Stage III","a":0.33,"b":0.42,"d":0.48},{"g":"KLK14","s":"Stage III","a":0.42,"b":0.55,"d":0.34},{"g":"KLK14","s":"Stage III","a":0.55,"b":0.7,"d":0.22},
{"g":"KLK14","s":"Stage IV","a":0,"b":0.03,"d":0.97},{"g":"KLK14","s":"Stage IV","a":0.03,"b":0.08,"d":1},{"g":"KLK14","s":"Stage IV","a":0.08,"b":0.14,"d":0.97},{"g":"KLK14","s":"Stage IV","a":0.14,"b":0.2,"d":0.86},{"g":"KLK14","s":"Stage IV","a":0.2,"b":0.26,"d":0.7},{"g":"KLK14","s":"Stage IV","a":0.26,"b":0.33,"d":0.52},{"g":"KLK14","s":"Stage IV","a":0.33,"b":0.42,"d":0.36},{"g":"KLK14","s":"Stage IV","a":0.42,"b":0.55,"d":0.22},

{"g":"KLK15","s":"Stage I","a":0,"b":0.07,"d":1},{"g":"KLK15","s":"Stage I","a":0.07,"b":0.14,"d":0.86},{"g":"KLK15","s":"Stage I","a":0.14,"b":0.22,"d":0.68},{"g":"KLK15","s":"Stage I","a":0.22,"b":0.3,"d":0.52},{"g":"KLK15","s":"Stage I","a":0.3,"b":0.41,"d":0.38},{"g":"KLK15","s":"Stage I","a":0.41,"b":0.55,"d":0.26},{"g":"KLK15","s":"Stage I","a":0.55,"b":0.74,"d":0.16},{"g":"KLK15","s":"Stage I","a":0.74,"b":1.08,"d":0.08},
{"g":"KLK15","s":"Stage II","a":0,"b":0.11,"d":1},{"g":"KLK15","s":"Stage II","a":0.11,"b":0.23,"d":0.86},{"g":"KLK15","s":"Stage II","a":0.23,"b":0.34,"d":0.68},{"g":"KLK15","s":"Stage II","a":0.34,"b":0.48,"d":0.52},{"g":"KLK15","s":"Stage II","a":0.48,"b":0.65,"d":0.38},{"g":"KLK15","s":"Stage II","a":0.65,"b":0.87,"d":0.26},{"g":"KLK15","s":"Stage II","a":0.87,"b":1.18,"d":0.16},{"g":"KLK15","s":"Stage II","a":1.18,"b":1.71,"d":0.1},
{"g":"KLK15","s":"Stage III","a":0,"b":0.006,"d":0.95},{"g":"KLK15","s":"Stage III","a":0.006,"b":0.012,"d":0.8},{"g":"KLK15","s":"Stage III","a":0.012,"b":0.018,"d":0.6},{"g":"KLK15","s":"Stage III","a":0.018,"b":0.025,"d":0.45},{"g":"KLK15","s":"Stage III","a":0.025,"b":0.04,"d":0.3},{"g":"KLK15","s":"Stage III","a":0.04,"b":0.06,"d":0.15},
{"g":"KLK15","s":"Stage IV","a":0,"b":0.07,"d":1},{"g":"KLK15","s":"Stage IV","a":0.07,"b":0.14,"d":0.86},{"g":"KLK15","s":"Stage IV","a":0.14,"b":0.22,"d":0.68},{"g":"KLK15","s":"Stage IV","a":0.22,"b":0.3,"d":0.52},{"g":"KLK15","s":"Stage IV","a":0.3,"b":0.41,"d":0.38},{"g":"KLK15","s":"Stage IV","a":0.41,"b":0.55,"d":0.26},{"g":"KLK15","s":"Stage IV","a":0.55,"b":0.74,"d":0.16},{"g":"KLK15","s":"Stage IV","a":0.74,"b":1.08,"d":0.08}
]},
"facet":{"field":"g","type":"nominal","sort":["KLK1","KLK2","KLK3","KLK4","KLK5","KLK6","KLK7","KLK8","KLK9","KLK10","KLK11","KLK12","KLK13","KLK14","KLK15"],
  "header":{"title":null,"labelOrient":"bottom","labelFontSize":6.5,"labelPadding":2,"labelFont":"Liberation Sans","labelColor":"#222"}},
"columns":5,
"spacing":{"row":20,"column":14},
"spec":{
  "width":125,"height":96,
  "layer":[
    {"transform":[{"filter":"isValid(datum.lo)"}],
     "mark":{"type":"rule","opacity":0},
     "encoding":{
       "y":{"field":"lo","type":"quantitative","title":null,"scale":{"zero":false,"nice":false},
            "axis":{"tickCount":5,"labelAngle":270,"labelAlign":"center","labelBaseline":"bottom","labelFontSize":5.5,"tickSize":3,"labelPadding":1,"domain":false,"grid":false,"labelColor":"#333","tickColor":"#555"}},
       "y2":{"field":"hi"}}},
    {"transform":[{"filter":"isValid(datum.mx)"}],
     "mark":{"type":"rule","color":"#333333","strokeWidth":0.8},
     "encoding":{
       "x":{"field":"s","type":"nominal","title":null},
       "y":{"field":"mx","type":"quantitative","title":null},
       "y2":{"datum":0}}},
    {"transform":[{"filter":"isValid(datum.d)"}],
     "mark":{"type":"bar","color":"#ff0000","stroke":"#ff0000","strokeWidth":0.3},
     "encoding":{
       "x":{"field":"s","type":"nominal","title":null,"scale":{"paddingInner":0,"paddingOuter":0.16},
            "axis":{"labelAngle":0,"labelFontSize":5.5,"tickSize":3,"labelPadding":3,"domain":false,"grid":false,"labelColor":"#333","tickColor":"#555"}},
       "y":{"field":"a","type":"quantitative","title":null},
       "y2":{"field":"b"},
       "size":{"field":"d","type":"quantitative","scale":{"type":"pow","exponent":2,"domain":[0,1],"range":[0,23]},"legend":null}}},
    {"transform":[{"filter":"isValid(datum.q1)"}],
     "mark":{"type":"bar","color":"#000000","width":2},
     "encoding":{
       "x":{"field":"s","type":"nominal","title":null},
       "y":{"field":"q1","type":"quantitative","title":null},
       "y2":{"field":"q3"}}},
    {"transform":[{"filter":"isValid(datum.q1)"}],
     "mark":{"type":"point","filled":true,"color":"#ffffff","opacity":1,"size":6},
     "encoding":{
       "x":{"field":"s","type":"nominal","title":null},
       "y":{"field":"m","type":"quantitative","title":null}}},
    {"transform":[{"filter":"isValid(datum.t)"}],
     "mark":{"type":"text","align":"right","baseline":"top","fontSize":5.5,"lineBreak":"|","lineHeight":5.8,"dx":10,"color":"#222222"},
     "encoding":{
       "x":{"datum":"Stage IV"},
       "y":{"value":1.5},
       "text":{"field":"t"}}}
  ]
},
"resolve":{"scale":{"y":"independent"},"axis":{"x":"independent","y":"independent"}},
"config":{"font":"Liberation Sans","view":{"stroke":"#777","strokeWidth":1}}
}
